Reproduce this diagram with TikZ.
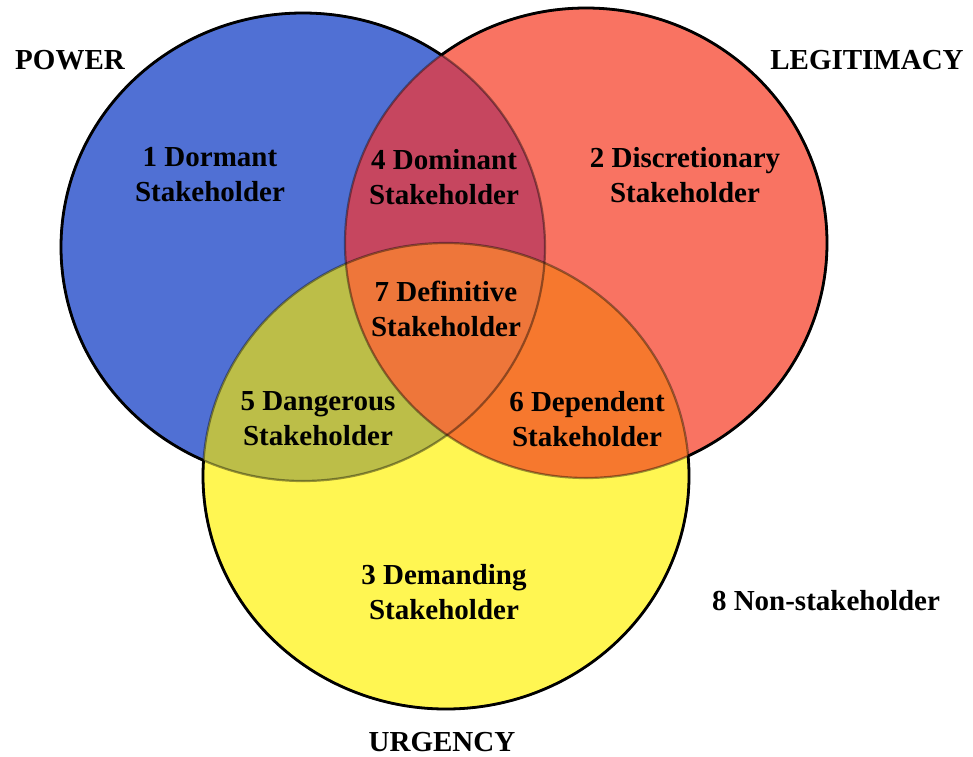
\documentclass[tikz,border=0pt]{standalone}
\usepackage{fontspec}
\setmainfont{Liberation Serif}
\definecolor{cB}{RGB}{80,112,212}
\definecolor{cR}{RGB}{249,115,98}
\definecolor{cY}{RGB}{255,246,82}
\definecolor{cBR}{RGB}{198,70,95}
\definecolor{cBY}{RGB}{188,190,72}
\definecolor{cRY}{RGB}{246,120,46}
\definecolor{cBRY}{RGB}{238,118,58}
\begin{document}
\begin{tikzpicture}[x=1pt,y=-1pt,
  lbl/.style={font=\fontsize{29}{35}\selectfont\bfseries, align=center, text=black, inner sep=0pt},
  outl/.style={draw=black, line width=2.8pt},
  inl/.style={draw=black, draw opacity=0.4, line width=2.2pt}]
\useasboundingbox (0,0) rectangle (973,756);
\fill[white] (0,0) rectangle (973,756);
\def\BlueE{(303,247) ellipse [x radius=242pt, y radius=234pt]}
\def\RedE{(586,243) ellipse [x radius=241pt, y radius=235pt]}
\def\YelE{(446,476) ellipse [x radius=243pt, y radius=233pt]}
% fills
\fill[cB] \BlueE;
\fill[cR] \RedE;
\fill[cY] \YelE;
\begin{scope}\clip \BlueE; \fill[cBR] \RedE; \end{scope}
\begin{scope}\clip \BlueE; \fill[cBY] \YelE; \end{scope}
\begin{scope}\clip \RedE; \fill[cRY] \YelE; \end{scope}
\begin{scope}\clip \BlueE; \clip \RedE; \fill[cBRY] \YelE; \end{scope}
% inner outlines
\path[inl] \BlueE;
\path[inl] \RedE;
\path[inl] \YelE;
% outer outlines
\begin{scope}[even odd rule]
  \clip (-20,-20) rectangle (1000,780) \RedE;
  \clip (-20,-20) rectangle (1000,780) \YelE;
  \path[outl] \BlueE;
\end{scope}
\begin{scope}[even odd rule]
  \clip (-20,-20) rectangle (1000,780) \BlueE;
  \clip (-20,-20) rectangle (1000,780) \YelE;
  \path[outl] \RedE;
\end{scope}
\begin{scope}[even odd rule]
  \clip (-20,-20) rectangle (1000,780) \BlueE;
  \clip (-20,-20) rectangle (1000,780) \RedE;
  \path[outl] \YelE;
\end{scope}
% labels
\node[lbl] (power) at (70,60) {POWER};
\node[lbl] (legit) at (867,60) {LEGITIMACY};
\node[lbl] (urg) at (442,742) {URGENCY};
\node[lbl] (s1) at (210,175) {1 Dormant\\Stakeholder};
\node[lbl] (s4) at (444,177) {4 Dominant\\Stakeholder};
\node[lbl] (s2) at (685,175) {2 Discretionary\\Stakeholder};
\node[lbl] (s7) at (446,309) {7 Definitive\\Stakeholder};
\node[lbl] (s5) at (318,419) {5 Dangerous\\Stakeholder};
\node[lbl] (s6) at (587,419) {6 Dependent\\Stakeholder};
\node[lbl] (s3) at (444,592) {3 Demanding\\Stakeholder};
\node[lbl] (s8) at (826,601) {8 Non-stakeholder};
\end{tikzpicture}
\end{document}
